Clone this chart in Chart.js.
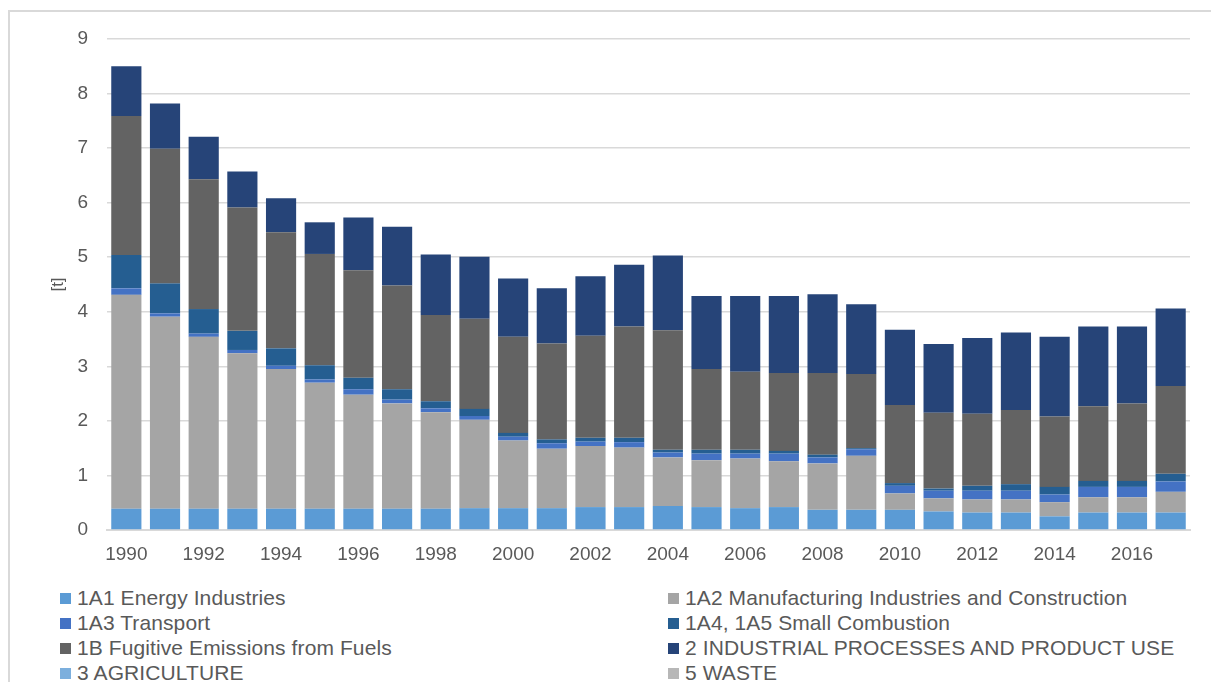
<!DOCTYPE html>
<html>
<head>
<meta charset="utf-8">
<script src="https://cdn.jsdelivr.net/npm/chart.js@4.4.1/dist/chart.umd.min.js"></script>
<style>
    html, body { margin: 0; padding: 0; background: #fff; }
    body { width: 1211px; height: 682px; overflow: hidden; position: relative; font-family: "Liberation Sans", Arial, sans-serif; }
    .frame { position: absolute; left: 8px; top: 10px; width: 1220px; height: 700px; border-left: 2px solid #d9d9d9; border-top: 2px solid #d9d9d9; }
    .chart-box { position: absolute; left: 0; top: 0; width: 1211px; height: 570px; }
    .legend { position: absolute; left: 60px; top: 587px; display: grid; grid-template-columns: 608px 560px; row-gap: 3px; }
    .legend-item { display: flex; align-items: center; height: 22px; font-size: 21px; letter-spacing: 0.1px; color: #595959; white-space: nowrap; }
    .legend-box { width: 11px; height: 11px; margin-right: 6px; flex: none; }
</style>
</head>
<body>
<div class="frame"></div>
<div class="chart-box"><canvas id="chart"></canvas></div>
<div class="legend" id="legend"></div>
<script>
const years = [1990, 1991, 1992, 1993, 1994, 1995, 1996, 1997, 1998, 1999, 2000, 2001, 2002, 2003,
    2004, 2005, 2006, 2007, 2008, 2009, 2010, 2011, 2012, 2013, 2014, 2015, 2016, 2017];

const energyIndustries = [0.39, 0.39, 0.39, 0.39, 0.39, 0.39, 0.39, 0.39, 0.39, 0.40, 0.40, 0.40, 0.42, 0.42,
    0.44, 0.42, 0.40, 0.42, 0.37, 0.37, 0.37, 0.34, 0.32, 0.32, 0.25, 0.32, 0.32, 0.32];
const manufacturing = [3.92, 3.52, 3.15, 2.85, 2.56, 2.31, 2.09, 1.93, 1.77, 1.62, 1.24, 1.09, 1.12, 1.09,
    0.89, 0.86, 0.91, 0.84, 0.85, 0.99, 0.30, 0.24, 0.24, 0.24, 0.26, 0.28, 0.28, 0.38];
const transport = [0.12, 0.06, 0.06, 0.06, 0.06, 0.06, 0.10, 0.07, 0.07, 0.07, 0.07, 0.10, 0.08, 0.10,
    0.09, 0.12, 0.09, 0.14, 0.11, 0.12, 0.14, 0.14, 0.16, 0.16, 0.14, 0.19, 0.19, 0.19];
const smallCombustion = [0.61, 0.55, 0.45, 0.35, 0.32, 0.26, 0.21, 0.19, 0.13, 0.13, 0.07, 0.07, 0.07, 0.08,
    0.05, 0.07, 0.07, 0.05, 0.05, 0.02, 0.05, 0.04, 0.09, 0.12, 0.14, 0.11, 0.11, 0.14];
const fugitive = [2.55, 2.47, 2.38, 2.26, 2.13, 2.04, 1.97, 1.90, 1.58, 1.65, 1.76, 1.76, 1.87, 2.04,
    2.19, 1.48, 1.43, 1.43, 1.50, 1.36, 1.43, 1.39, 1.32, 1.36, 1.29, 1.37, 1.42, 1.61];
const industrial = [0.91, 0.83, 0.78, 0.66, 0.62, 0.58, 0.97, 1.08, 1.11, 1.14, 1.07, 1.01, 1.09, 1.13,
    1.37, 1.34, 1.39, 1.41, 1.44, 1.28, 1.38, 1.26, 1.39, 1.42, 1.46, 1.46, 1.41, 1.42];
const agriculture = [0, 0, 0, 0, 0, 0, 0, 0, 0, 0, 0, 0, 0, 0, 0, 0, 0, 0, 0, 0, 0, 0, 0, 0, 0, 0, 0, 0];
const waste = [0, 0, 0, 0, 0, 0, 0, 0, 0, 0, 0, 0, 0, 0, 0, 0, 0, 0, 0, 0, 0, 0, 0, 0, 0, 0, 0, 0];

const yTicks = [0, 1, 2, 3, 4, 5, 6, 7, 8, 9];

// legend order = stacking order (bottom to top)
const series = [
    { label: '1A1 Energy Industries', data: energyIndustries, color: '#5b9bd5' },
    { label: '1A2 Manufacturing Industries and Construction', data: manufacturing, color: '#a5a5a5' },
    { label: '1A3 Transport', data: transport, color: '#4472c4' },
    { label: '1A4, 1A5 Small Combustion', data: smallCombustion, color: '#255e91' },
    { label: '1B Fugitive Emissions from Fuels', data: fugitive, color: '#636363' },
    { label: '2 INDUSTRIAL PROCESSES AND PRODUCT USE', data: industrial, color: '#264478' },
    { label: '3 AGRICULTURE', data: agriculture, color: '#7cafdd' },
    { label: '5 WASTE', data: waste, color: '#b7b7b7' },
];

const tickFont = { family: '"Liberation Sans", Arial, sans-serif', size: 19 };

const chart = new Chart(document.getElementById('chart'), {
    type: 'bar',
    data: {
        labels: years.map(String),
        datasets: series.map((s) => ({
            label: s.label,
            data: s.data,
            backgroundColor: s.color,
            borderWidth: 0,
            categoryPercentage: 1,
            barPercentage: 0.78,
        })),
    },
    options: {
        responsive: true,
        maintainAspectRatio: false,
        animation: false,
        layout: { padding: { top: 39, right: 21, left: 0, bottom: 0 } },
        plugins: {
            legend: { display: false },
            tooltip: { enabled: false },
        },
        scales: {
            x: {
                stacked: true,
                offset: true,
                grid: { display: false },
                border: { color: '#d9d9d9', width: 2 },
                ticks: {
                    autoSkip: false,
                    maxRotation: 0,
                    padding: 5,
                    color: '#595959',
                    font: tickFont,
                    callback: (v, i) => (i % 2 === 0 ? years[i] : ''),
                },
                afterFit: (s) => { s.height = 40; },
            },
            y: {
                stacked: true,
                min: 0,
                max: 9,
                afterBuildTicks: (s) => { s.ticks = yTicks.map((v) => ({ value: v })); },
                grid: { color: '#d9d9d9', lineWidth: 1.5, drawTicks: false },
                border: { display: false },
                ticks: { padding: 19, color: '#595959', font: tickFont },
                title: {
                    display: true,
                    text: '[t]',
                    color: '#595959',
                    font: { family: '"Liberation Sans", Arial, sans-serif', size: 17 },
                    padding: { top: 48, bottom: 0 },
                },
                afterFit: (s) => { s.width = 107; },
            },
        },
    },
});

// two-column legend built from the chart datasets
const legendEl = document.getElementById('legend');
chart.data.datasets.forEach((ds) => {
    const item = document.createElement('div');
    item.className = 'legend-item';
    const box = document.createElement('span');
    box.className = 'legend-box';
    box.style.background = ds.backgroundColor;
    item.appendChild(box);
    item.appendChild(document.createTextNode(ds.label));
    legendEl.appendChild(item);
});
</script>
</body>
</html>
